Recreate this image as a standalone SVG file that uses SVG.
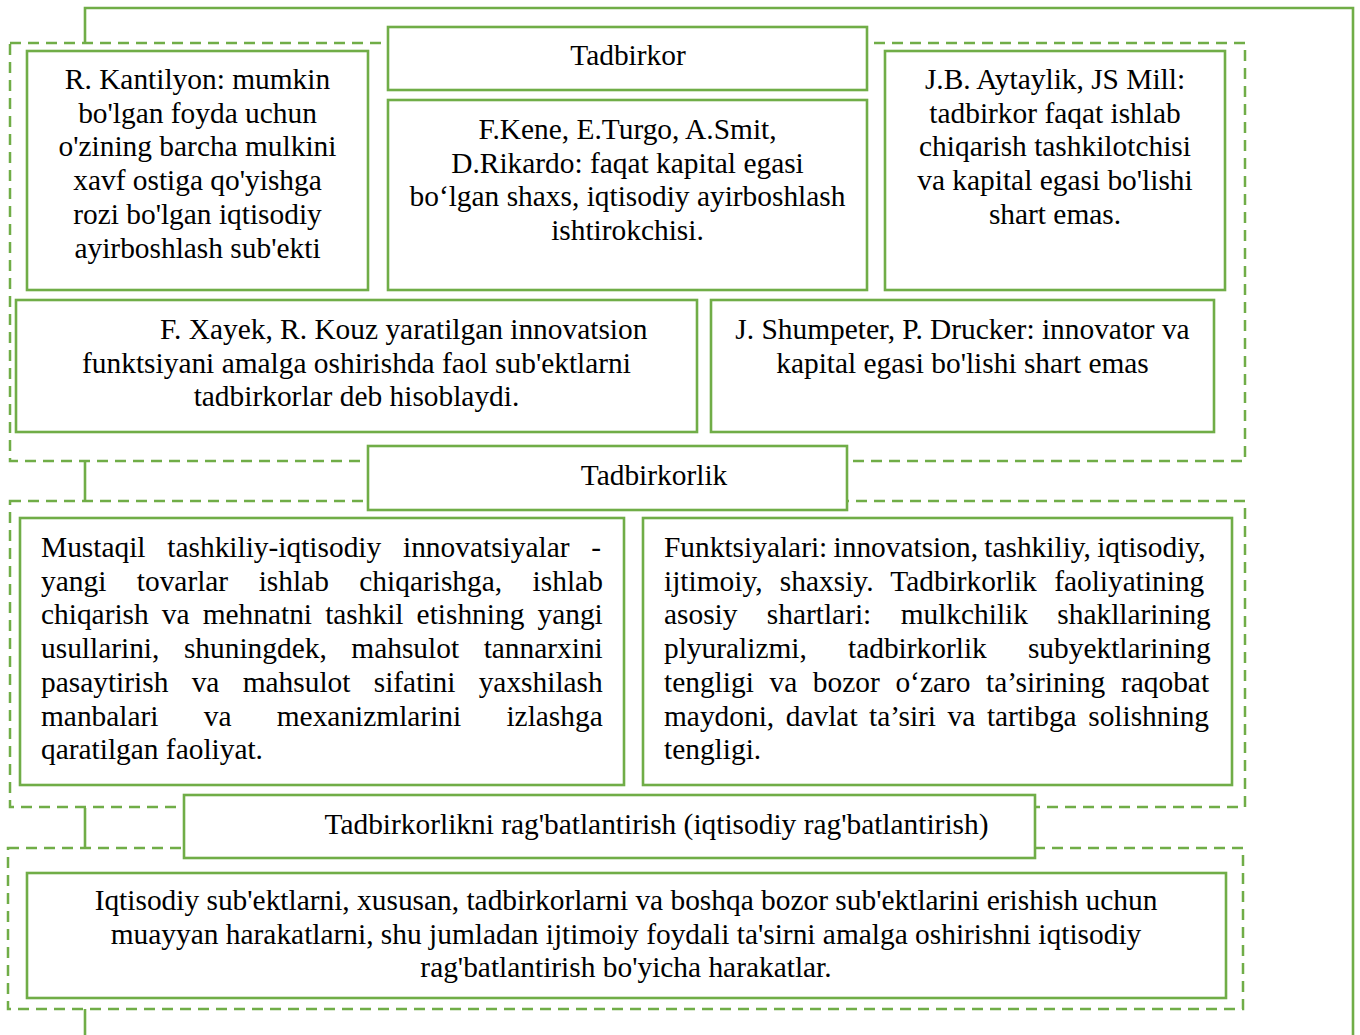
<svg xmlns="http://www.w3.org/2000/svg" width="1360" height="1035" viewBox="0 0 1360 1035">
<style>
.grp{fill:none;stroke:#70AD47;stroke-width:2.5;stroke-dasharray:11 7}
.box{fill:#fff;stroke:#70AD47;stroke-width:2.6}
.con{fill:none;stroke:#70AD47;stroke-width:2.6}
text{font-family:"Liberation Serif","Times New Roman",serif;font-size:29.4px;fill:#000}
.c{text-anchor:middle}
</style>
<rect width="1360" height="1035" fill="#fff"/>
<g id="groups">
<rect class="grp" x="10" y="43" width="1235" height="418"/>
<rect class="grp" x="10" y="501" width="1235" height="306"/>
<rect class="grp" x="8" y="848" width="1235" height="161"/>
</g>
<g id="connectors">
<path class="con" d="M85,43 V8 H1353 V1035"/>
<path class="con" d="M85,461 V501"/>
<path class="con" d="M85,808 V848"/>
<path class="con" d="M85,1009 V1035"/>
</g>
<g id="tadbirkor">
<rect class="box" x="388" y="27" width="479" height="63"/>
<text class="c" x="628" y="65">Tadbirkor</text>
</g>
<g id="kantilyon">
<rect class="box" x="27" y="51" width="341" height="239"/>
<text class="c" x="197.5" y="89">R. Kantilyon: mumkin</text>
<text class="c" x="197.5" y="122.7">bo'lgan foyda uchun</text>
<text class="c" x="197.5" y="156.4">o'zining barcha mulkini</text>
<text class="c" x="197.5" y="190.1">xavf ostiga qo'yishga</text>
<text class="c" x="197.5" y="223.8">rozi bo'lgan iqtisodiy</text>
<text class="c" x="197.5" y="257.5">ayirboshlash sub'ekti</text>
</g>
<g id="kene">
<rect class="box" x="388" y="100" width="479" height="190"/>
<text class="c" x="627.5" y="139">F.Kene, E.Turgo, A.Smit,</text>
<text class="c" x="627.5" y="172.7">D.Rikardo: faqat kapital egasi</text>
<text class="c" x="627.5" y="206.4">bo‘lgan shaxs, iqtisodiy ayirboshlash</text>
<text class="c" x="627.5" y="240.1">ishtirokchisi.</text>
</g>
<g id="aytaylik">
<rect class="box" x="885" y="51" width="340" height="239"/>
<text class="c" x="1055" y="89">J.B. Aytaylik, JS Mill:</text>
<text class="c" x="1055" y="122.7">tadbirkor faqat ishlab</text>
<text class="c" x="1055" y="156.4">chiqarish tashkilotchisi</text>
<text class="c" x="1055" y="190.1">va kapital egasi bo'lishi</text>
<text class="c" x="1055" y="223.8">shart emas.</text>
</g>
<g id="xayek">
<rect class="box" x="16" y="300" width="681" height="132"/>
<text x="160" y="339">F. Xayek, R. Kouz yaratilgan innovatsion</text>
<text class="c" x="356.5" y="372.7">funktsiyani amalga oshirishda faol sub'ektlarni</text>
<text class="c" x="356.5" y="406.4">tadbirkorlar deb hisoblaydi.</text>
</g>
<g id="shumpeter">
<rect class="box" x="711" y="300" width="503" height="132"/>
<text class="c" x="962.5" y="339">J. Shumpeter, P. Drucker: innovator va</text>
<text class="c" x="962.5" y="372.7">kapital egasi bo'lishi shart emas</text>
</g>
<g id="tadbirkorlik">
<rect class="box" x="368" y="446" width="479" height="64"/>
<text class="c" x="654" y="485">Tadbirkorlik</text>
</g>
<g id="mustaqil">
<rect class="box" x="20" y="518" width="604" height="267"/>
<text x="41" y="557" word-spacing="14.45">Mustaqil tashkiliy-iqtisodiy innovatsiyalar -</text>
<text x="41" y="590.7" word-spacing="23.13">yangi tovarlar ishlab chiqarishga, ishlab</text>
<text x="41" y="624.4" word-spacing="5.75">chiqarish va mehnatni tashkil etishning yangi</text>
<text x="41" y="658.1" word-spacing="17.2">usullarini, shuningdek, mahsulot tannarxini</text>
<text x="41" y="691.8" word-spacing="15.95">pasaytirish va mahsulot sifatini yaxshilash</text>
<text x="41" y="725.5" word-spacing="37.9">manbalari va mexanizmlarini izlashga</text>
<text x="41" y="759.2">qaratilgan faoliyat.</text>
</g>
<g id="funktsiyalari">
<rect class="box" x="643" y="518" width="589" height="267"/>
<text x="664" y="557" word-spacing="-1.1">Funktsiyalari: innovatsion, tashkiliy, iqtisodiy,</text>
<text x="664" y="590.7" word-spacing="10">ijtimoiy, shaxsiy. Tadbirkorlik faoliyatining</text>
<text x="664" y="624.4" word-spacing="22">asosiy shartlari: mulkchilik shakllarining</text>
<text x="664" y="658.1" word-spacing="33.8">plyuralizmi, tadbirkorlik subyektlarining</text>
<text x="664" y="691.8" word-spacing="8.3">tengligi va bozor o‘zaro ta’sirining raqobat</text>
<text x="664" y="725.5" word-spacing="4.2">maydoni, davlat ta’siri va tartibga solishning</text>
<text x="664" y="759.2">tengligi.</text>
</g>
<g id="ragbat">
<rect class="box" x="184" y="795" width="851" height="63"/>
<text class="c" x="656.5" y="834">Tadbirkorlikni rag'batlantirish (iqtisodiy rag'batlantirish)</text>
</g>
<g id="iqtisodiy">
<rect class="box" x="27" y="873" width="1199" height="125"/>
<text class="c" x="626" y="910">Iqtisodiy sub'ektlarni, xususan, tadbirkorlarni va boshqa bozor sub'ektlarini erishish uchun</text>
<text class="c" x="626" y="943.7">muayyan harakatlarni, shu jumladan ijtimoiy foydali ta'sirni amalga oshirishni iqtisodiy</text>
<text class="c" x="626" y="977.4">rag'batlantirish bo'yicha harakatlar.</text>
</g>
</svg>
